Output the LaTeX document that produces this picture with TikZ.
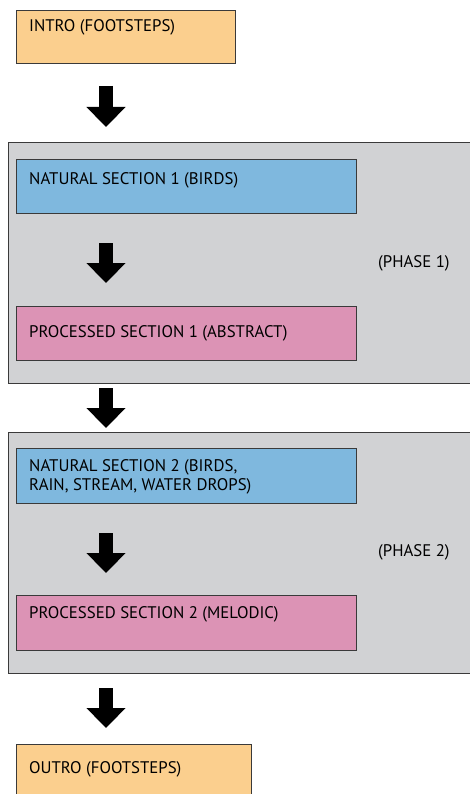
\documentclass[tikz,border=0pt]{standalone}
\usepackage{fontspec}
\setmainfont{PT Sans}
\usetikzlibrary{arrows.meta}
\definecolor{introc}{HTML}{FBCF8E}
\definecolor{natc}{HTML}{7FB8DE}
\definecolor{procc}{HTML}{DC93B5}
\definecolor{phasec}{HTML}{D1D2D4}
\definecolor{edgec}{HTML}{3A3A3A}
\tikzset{
  box/.style={draw=edgec, line width=1pt, rectangle, anchor=north west, inner sep=0pt},
  lbl/.style={anchor=base west, inner sep=0pt, font=\fontsize{16.8}{19.5}\selectfont, text=black, align=left},
  bigarrow/.style={line width=14pt, -{Triangle[width=38pt,length=20pt]}, black}
}
\begin{document}
\begin{tikzpicture}[x=1pt,y=-1pt]
\useasboundingbox (0,0) rectangle (469,794);
% phases
\node[box, fill=phasec, minimum width=470pt, minimum height=241pt] (ph1) at (8,142) {};
\node[box, fill=phasec, minimum width=470pt, minimum height=241pt] (ph2) at (8,432) {};
% boxes
\node[box, fill=introc, minimum width=219pt, minimum height=53pt] (intro) at (16,10) {};
\node[box, fill=natc, minimum width=340pt, minimum height=54pt] (nat1) at (16,159) {};
\node[box, fill=procc, minimum width=340pt, minimum height=54pt] (proc1) at (16,306) {};
\node[box, fill=natc, minimum width=340pt, minimum height=55pt] (nat2) at (16,448) {};
\node[box, fill=procc, minimum width=340pt, minimum height=55pt] (proc2) at (16,595) {};
\node[box, fill=introc, minimum width=235pt, minimum height=60pt] (outro) at (16,744) {};
% labels
\node[lbl] (tintro) at (29,32) {INTRO (FOOTSTEPS)};
\node[lbl] (tnat1) at (29,185) {NATURAL SECTION 1 (BIRDS)};
\node[lbl] (tproc1) at (29,337) {PROCESSED SECTION 1 (ABSTRACT)};
\node[lbl] (tnat2) at (29,490.5) {NATURAL SECTION 2 (BIRDS,\\RAIN, STREAM, WATER DROPS)};
\node[lbl] (tproc2) at (29,618) {PROCESSED SECTION 2 (MELODIC)};
\node[lbl] (touto) at (29,773) {OUTRO (FOOTSTEPS)};
\node[lbl] (tph1) at (378,267) {(PHASE 1)};
\node[lbl] (tph2) at (378,556) {(PHASE 2)};
% arrows
\coordinate (ax) at (106,0);
\draw[bigarrow, shorten <=22pt, shorten >=15pt] (intro.south -| ax) -- (ph1.north -| ax);
\draw[bigarrow, shorten <=29pt, shorten >=23pt] (nat1.south -| ax) -- (proc1.north -| ax);
\draw[bigarrow, shorten <=4pt, shorten >=4pt] (ph1.south -| ax) -- (ph2.north -| ax);
\draw[bigarrow, shorten <=29pt, shorten >=22pt] (nat2.south -| ax) -- (proc2.north -| ax);
\draw[bigarrow, shorten <=14pt, shorten >=16pt] (ph2.south -| ax) -- (outro.north -| ax);
\end{tikzpicture}
\end{document}
